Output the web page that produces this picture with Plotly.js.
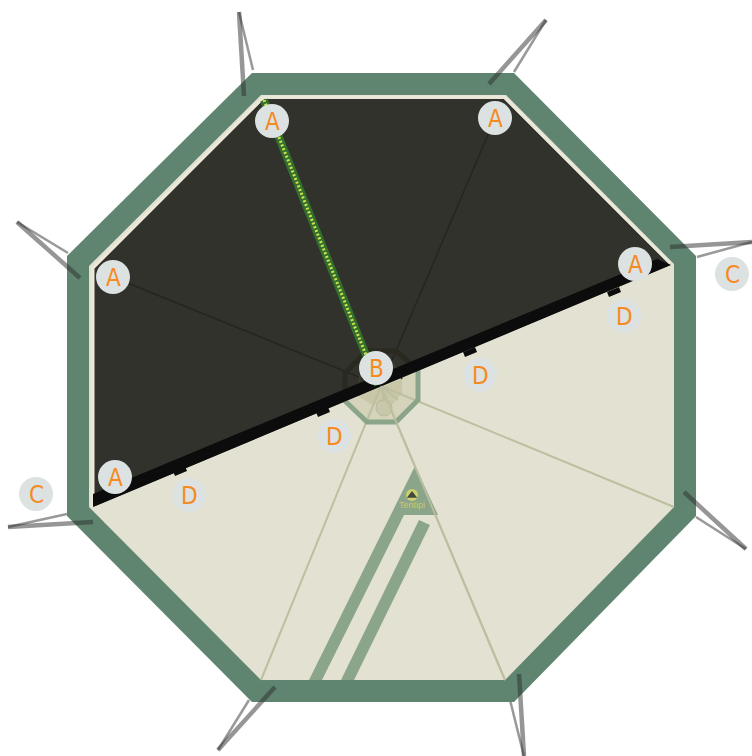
<!DOCTYPE html>
<html><head><meta charset="utf-8">
<script src="https://cdn.plot.ly/plotly-3.0.1.min.js"></script>
<style>html,body{margin:0;padding:0;background:#fff}</style></head>
<body><div id="chart" style="width:752px;height:756px"></div>
<script>
const outerX=[252,514,696,696,514,252,67,67,252];
const outerY=[73,73,256,516,702,702,516,256,73];
const innerX=[261,506,674,674,505,261,89,89,261];
const innerY=[95,95,264,507,680,680,507,266,95];
const darkX=[264,504,670,93,93,264];
const darkY=[99,99,265,507,268,99];
const bandX=[93,93,657,671];
const bandY=[507,494,259,265];
const tabX=[173,185,187,175,null,316,328,330,318,null,463,475,477,465,null,607,619,621,609];
const tabY=[471,466,471,476,null,412,407,412,417,null,352,347,352,357,null,292,287,292,297];
const darkSpokeX=[381,490,null,381,113];
const darkSpokeY=[386,130,null,386,277];
const lightSpokeX=[381,261,null,381,505,null,381,674,null,381,384,null,381,398];
const lightSpokeY=[386,680,null,386,680,null,386,507,null,386,400,null,386,400];
const ringLowX=[344,367,396,418,418];
const ringLowY=[400,422,422,400,370];
const ringHighX=[418,396,367,345,345];
const ringHighY=[370,351,351,373,399];
const hubLowX=[345,367,396,418,418];
const hubLowY=[400,422,422,400,371];
const coreX=[358,372,392,402,402];
const coreY=[396,405,405,393,379];
const coreHiX=[402,392,372,360,358];
const coreHiY=[379,362,362,376,396];
const logoPanelX=[415,438,404,322,309,415];
const logoPanelY=[466,515,515,680,680,466];
const stripX=[419,430,354,341,419];
const stripY=[520,525,680,680,520];
const poleX=[264,378];
const poleY=[100,385];
const thickGuyX=[239,244,null,546,489,null,752,670,null,746,684,null,524,519,null,218,275,null,8,93,null,17,80];
const thickGuyY=[12,96,null,20,84,null,242,247,null,549,492,null,756,674,null,750,687,null,527,522,null,222,278];
const thinGuyX=[239,253,null,546,514,null,752,697,null,746,696,null,524,510,null,218,249,null,8,67,null,17,68];
const thinGuyY=[12,70,null,20,72,null,242,257,null,549,517,null,756,700,null,750,700,null,527,514,null,222,253];
const labels=['A','A','A','A','A','B','C','C','D','D','D','D'];
const labelX=[272,495,635,113,115,376,732,36,624,480,334,189];
const labelY=[121,118,264,277,477,368,274,494,316,375,436,495];

function poly(x,y,fill,lineColor,w){return {x,y,mode:'lines',fill:'toself',fillcolor:fill,
  line:{color:lineColor||fill,width:w===undefined?0:w},hoverinfo:'skip',showlegend:false};}
function path(x,y,color,w,dash){return {x,y,mode:'lines',connectgaps:false,
  line:{color,width:w,dash:dash||'solid'},hoverinfo:'skip',showlegend:false};}

const data=[
  path(thinGuyX,thinGuyY,'rgba(70,70,70,0.55)',2.5),
  poly(outerX,outerY,'#5f8570'),
  poly(innerX,innerY,'#e3e2d2','#e3e2d2',0),
  poly(darkX,darkY,'#31322c'),
  path([264,504,670],[97,97,263],'#ece9db',3),
  path([93,93,264],[507,268,97],'#ece9db',3),
  path(darkSpokeX,darkSpokeY,'#26261f',1.5),
  poly(hubLowX.concat([345]),hubLowY.concat([400]),'rgba(196,196,160,0.45)'),
  poly(coreX.concat([358]),coreY.concat([396]),'rgba(190,186,150,0.5)'),
  path(lightSpokeX,lightSpokeY,'#bcbfa0',2),
  {x:[384],y:[408],mode:'markers',marker:{size:16,color:'#c8c7a9',line:{color:'#b8b89a',width:1}},hoverinfo:'skip',showlegend:false},
  path(ringLowX,ringLowY,'#8aa58a',5),
  path(ringHighX,ringHighY,'#29291f',5),
  path(coreHiX,coreHiY,'#3b3b31',2),
  poly(bandX.concat([93]),bandY.concat([507]),'#0c0c0c'),
  poly(tabX,tabY,'#0c0c0c'),
  poly(logoPanelX,logoPanelY,'#8aa58a'),
  poly(stripX,stripY,'#8aa58a'),
  path([381,505],[386,680],'rgba(188,191,160,0.9)',2),
  {x:[412],y:[495],mode:'markers',marker:{size:12,color:'#cfcf6e'},hoverinfo:'skip',showlegend:false},
  {x:[412],y:[495.5],mode:'markers',marker:{size:9,symbol:'triangle-up',color:'#3f4a3c'},hoverinfo:'skip',showlegend:false},
  {x:[412],y:[506],mode:'text',text:['Tentipi'],textposition:'middle center',
   textfont:{family:'"Liberation Sans Narrow","Liberation Sans",sans-serif',size:9,color:'#c9c96c'},hoverinfo:'skip',showlegend:false},
  path(poleX,poleY,'#33702f',8),
  path(poleX,poleY,'#d2e04a',3,'2px,2px'),
  path(thickGuyX,thickGuyY,'rgba(45,45,45,0.5)',4.5),
  {x:labelX,y:labelY,mode:'markers',marker:{size:34,color:'#dce1e1',line:{width:0}},hoverinfo:'skip',showlegend:false}
];
const annotations=labels.map((t,i)=>({x:labelX[i],y:labelY[i],xref:'x',yref:'y',text:t,showarrow:false,
  xanchor:'center',yanchor:'middle',yshift:-1,
  font:{family:'"DejaVu Sans Condensed","Liberation Sans Narrow","Liberation Sans",sans-serif',size:24,color:'#f58a1f'}}));
const layout={width:752,height:756,margin:{l:0,r:0,t:0,b:0},paper_bgcolor:'#fff',plot_bgcolor:'#fff',
  showlegend:false,annotations,
  xaxis:{range:[0,752],visible:false,fixedrange:true},
  yaxis:{range:[756,0],visible:false,fixedrange:true}};
Plotly.newPlot('chart',data,layout,{displayModeBar:false,staticPlot:true});
</script></body></html>
